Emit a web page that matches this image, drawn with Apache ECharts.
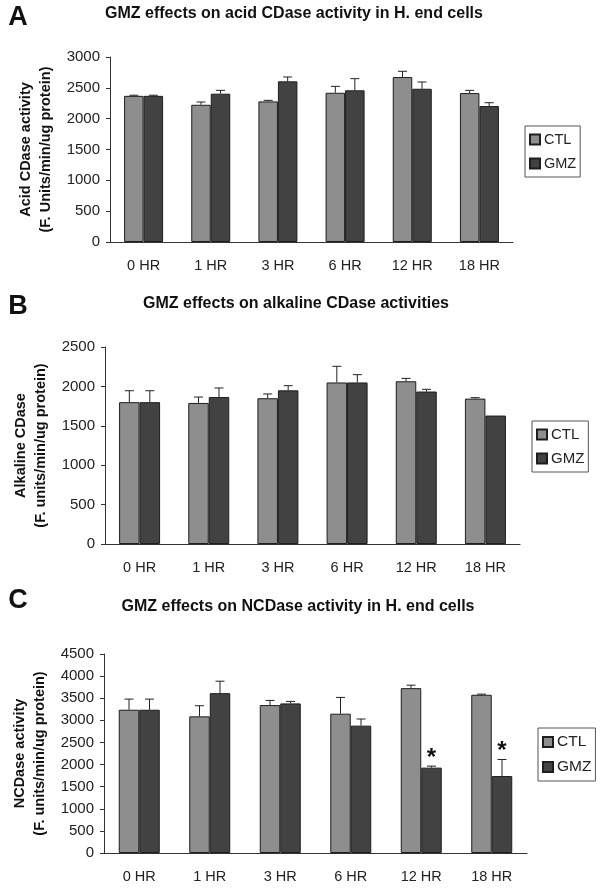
<!DOCTYPE html>
<html>
<head>
<meta charset="utf-8">
<script src="https://cdn.jsdelivr.net/npm/echarts@6/dist/echarts.min.js"></script>
<style>
  html, body { margin: 0; padding: 0; background: #fff; }
  #main { width: 604px; height: 894px; }
</style>
</head>
<body>
<div id="main"></div>
<script>
var hours = ['0 HR', '1 HR', '3 HR', '6 HR', '12 HR', '18 HR'];

// panel A - acid CDase
var ctlA = [2370, 2225, 2280, 2420, 2675, 2415];
var ctlAErr = [10, 45, 17, 104, 93, 44];
var gmzA = [2370, 2405, 2605, 2460, 2485, 2205];
var gmzAErr = [10, 54, 71, 189, 110, 54];

// panel B - alkaline CDase
var ctlB = [1800, 1790, 1850, 2050, 2065, 1845];
var ctlBErr = [145, 75, 54, 205, 37, 12];
var gmzB = [1800, 1865, 1950, 2050, 1935, 1630];
var gmzBErr = [145, 115, 59, 99, 28, 0];

// panel C - NCDase
var ctlC = [3240, 3090, 3345, 3150, 3728, 3578];
var ctlCErr = [240, 240, 105, 368, 67, 15];
var gmzC = [3240, 3615, 3383, 2880, 1930, 1740];
var gmzCErr = [240, 270, 45, 150, 35, 375];
var starC = ['', '', '', '', '*', '*'];

var FONT = 'Arial, "Liberation Sans", sans-serif';
var CTL_COLOR = '#8e8e8e';
var GMZ_COLOR = '#424242';
var EDGE = '#1e1e1e';

var chart = echarts.init(document.getElementById('main'));

var panels = [
    {grid: {left: 110, top: 57, width: 403, height: 185}, max: 3000, bw: 19.5,
     name: 'Acid CDase activity\n(F. Units/min/ug protein)',
     ctl: ctlA, ctlErr: ctlAErr, gmz: gmzA, gmzErr: gmzAErr, star: null,
     legend: {left: 525, top: 126, size: 14.5}},
    {grid: {left: 105, top: 347, width: 415, height: 197}, max: 2500, bw: 20.5,
     name: 'Alkaline CDase\n(F. units/min/ug protein)',
     ctl: ctlB, ctlErr: ctlBErr, gmz: gmzB, gmzErr: gmzBErr, star: null,
     legend: {left: 532, top: 421, size: 15}},
    {grid: {left: 104, top: 654, width: 423, height: 199}, max: 4500, bw: 20.5,
     name: 'NCDase activity\n(F. units/min/ug protein)',
     ctl: ctlC, ctlErr: ctlCErr, gmz: gmzC, gmzErr: gmzCErr, star: starC,
     legend: {left: 538, top: 728, size: 15.5}}
];

var grids = [], xAxes = [], yAxes = [], series = [], legends = [];

panels.forEach(function (p, k) {
    grids.push(p.grid);
    xAxes.push({
        type: 'category', gridIndex: k, data: hours,
        axisLine: {lineStyle: {color: '#333', width: 1}},
        axisTick: {length: 5, lineStyle: {color: '#333'}},
        axisLabel: {color: '#222', fontSize: 14.5, fontFamily: FONT, margin: 16}
    });
    yAxes.push({
        type: 'value', gridIndex: k, min: 0, max: p.max, interval: 500,
        name: p.name, nameLocation: 'middle', nameRotate: 90, nameGap: 49,
        nameTextStyle: {fontSize: 14.5, fontWeight: 'bold', fontFamily: FONT, color: '#111', lineHeight: 20},
        axisLine: {show: true, lineStyle: {color: '#333', width: 1}},
        axisTick: {show: true, length: 4, lineStyle: {color: '#333'}},
        axisLabel: {color: '#222', fontSize: 15, fontFamily: FONT, margin: 10,
            formatter: function (v) { return String(v); }},
        splitLine: {show: false}
    });
    series.push({
        name: 'CTL', type: 'bar', xAxisIndex: k, yAxisIndex: k, data: p.ctl,
        barWidth: p.bw, barGap: '0%',
        itemStyle: {color: CTL_COLOR, borderColor: EDGE, borderWidth: 1}
    });
    series.push({
        name: 'GMZ', type: 'bar', xAxisIndex: k, yAxisIndex: k, data: p.gmz,
        barWidth: p.bw, barGap: '0%',
        itemStyle: {color: GMZ_COLOR, borderColor: EDGE, borderWidth: 1}
    });
    // error bars (upper only) and asterisks
    var errData = hours.map(function (h, i) {
        return [i, p.ctl[i], p.ctlErr[i], p.gmz[i], p.gmzErr[i]];
    });
    var bw = p.bw, star = p.star;
    series.push({
        type: 'custom', xAxisIndex: k, yAxisIndex: k, z: 5,
        data: errData, encode: {x: 0, y: [1, 3]},
        renderItem: function (params, api) {
            var i = api.value(0);
            var kids = [];
            var topY = null, gx = 0;
            for (var s = 0; s < 2; s++) {
                var mean = api.value(1 + 2 * s), err = api.value(2 + 2 * s);
                var p0 = api.coord([i, mean]);
                var x = p0[0] + (s === 0 ? -bw / 2 : bw / 2);
                var p1 = api.coord([i, mean + err]);
                if (s === 1) { topY = p1[1]; gx = x; }
                if (err <= 0) continue;
                kids.push({type: 'line', shape: {x1: x, y1: p0[1], x2: x, y2: p1[1]},
                    style: {stroke: '#222', lineWidth: 1}});
                kids.push({type: 'line', shape: {x1: x - 4.5, y1: p1[1], x2: x + 4.5, y2: p1[1]},
                    style: {stroke: '#222', lineWidth: 1}});
            }
            if (star && star[i]) {
                kids.push({type: 'text', style: {text: star[i], x: gx, y: topY + 4,
                    textAlign: 'center', textVerticalAlign: 'bottom',
                    font: 'bold 24px ' + FONT, fill: '#111'}});
            }
            return {type: 'group', children: kids};
        }
    });
    legends.push({
        orient: 'vertical', left: p.legend.left, top: p.legend.top,
        data: [{name: 'CTL', icon: 'rect'}, {name: 'GMZ', icon: 'rect'}],
        itemWidth: 10, itemHeight: 10, itemGap: 9,
        padding: [6, 4, 6, 4],
        borderColor: '#555', borderWidth: 1,
        textStyle: {fontSize: p.legend.size, fontFamily: FONT, color: '#222', padding: [0, 0, 0, -1]},
        selectedMode: false
    });
});

function txt(x, y, text, font) {
    return {type: 'text', x: x, y: y, style: {text: text, font: font, fill: '#111',
        textAlign: 'center', textVerticalAlign: 'middle'}};
}

var option = {
    backgroundColor: '#fff',
    animation: false,
    grid: grids,
    xAxis: xAxes,
    yAxis: yAxes,
    legend: legends,
    series: series,
    graphic: [
        txt(18, 18, 'A', 'bold 27px ' + FONT),
        txt(294, 14, 'GMZ effects on acid CDase activity in H. end cells', 'bold 16px ' + FONT),
        txt(18, 307, 'B', 'bold 27px ' + FONT),
        txt(296, 304, 'GMZ effects on alkaline CDase activities', 'bold 16px ' + FONT),
        txt(18, 601, 'C', 'bold 27px ' + FONT),
        txt(298, 607, 'GMZ effects on NCDase activity in H. end cells', 'bold 16px ' + FONT)
    ]
};

chart.setOption(option);
</script>
</body>
</html>
